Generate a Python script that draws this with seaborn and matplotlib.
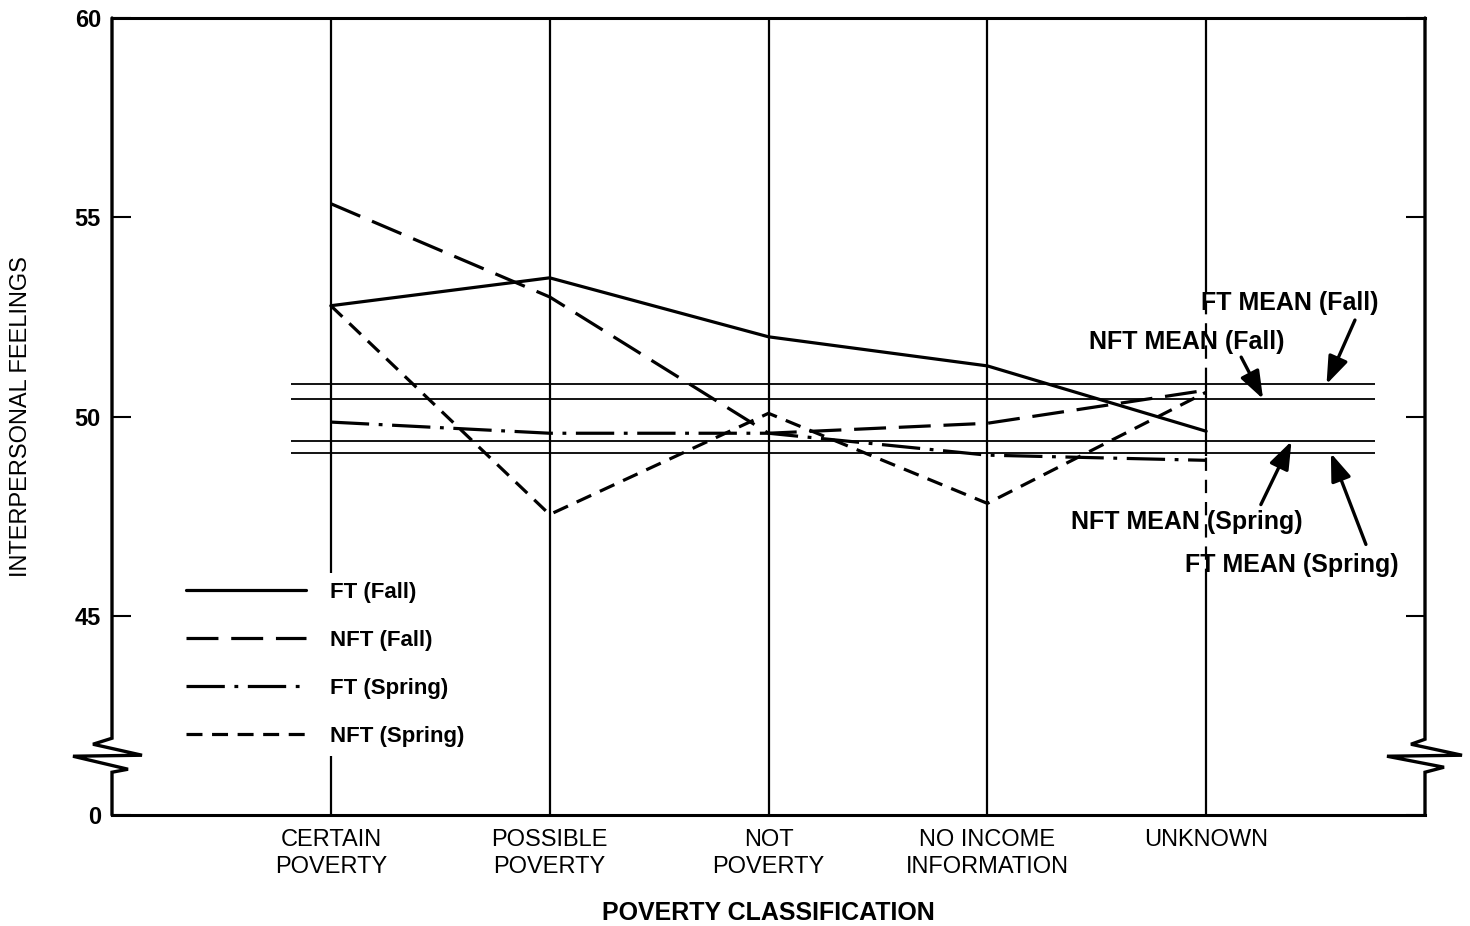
import numpy as np
import pandas as pd
import seaborn as sns
import matplotlib.pyplot as plt

# categories along the x axis
categories = ["CERTAIN\nPOVERTY", "POSSIBLE\nPOVERTY", "NOT\nPOVERTY",
              "NO INCOME\nINFORMATION", "UNKNOWN"]

# interpersonal feelings scores
ft_fall = [52.78, 53.48, 52.0, 51.27, 49.63]
nft_fall = [55.34, 53.0, 49.58, 49.83, 50.66]
ft_spring = [49.86, 49.58, 49.58, 49.03, 48.9]
nft_spring = [52.78, 47.54, 50.08, 47.82, 50.61]

series_names = ["FT (Fall)", "NFT (Fall)", "FT (Spring)", "NFT (Spring)"]

# group means (horizontal reference lines)
mean_labels = ["FT MEAN (Fall)", "NFT MEAN (Fall)", "NFT MEAN (Spring)", "FT MEAN (Spring)"]
mean_values = [50.81, 50.44, 49.38, 49.08]

yticks = [40, 45, 50, 55, 60]
ytick_labels = ["0", "45", "50", "55", "60"]

df = pd.DataFrame({
    "cat": categories * 4,
    "score": ft_fall + nft_fall + ft_spring + nft_spring,
    "series": np.repeat(series_names, len(categories)),
})

sns.set_theme(style="white")
plt.rcParams["font.family"] = ["Liberation Sans", "DejaVu Sans"]
plt.rcParams.update({"text.color": "black", "axes.labelcolor": "black",
                     "xtick.color": "black", "ytick.color": "black"})

fig = plt.figure(figsize=(14.7, 9.26), dpi=100)
ax = fig.add_axes([112 / 1470, 1 - 815 / 926, 1313 / 1470, 797 / 926])

dashes = {"FT (Fall)": "", "NFT (Fall)": (10, 4),
          "FT (Spring)": (12, 3, 1.2, 3), "NFT (Spring)": (5, 3)}
sns.lineplot(data=df, x="cat", y="score", style="series", style_order=series_names,
             dashes=dashes, color="black", lw=2.3, legend=False, ax=ax, sort=False)

ax.set_xlim(-1, 5)
ax.set_ylim(40, 60)

# vertical guide lines at each category
for i in range(len(categories) - 1):
    ax.axvline(i, color="black", lw=1.6, zorder=1)
last = len(categories) - 1
ax.vlines([last] * 3, [40, 49.0, 53.3], [45.85, 50.9, 60], color="black", lw=1.6, zorder=1)
ax.vlines([last] * 2, [45.85, 50.9], [49.0, 53.3], color="black", lw=1.6,
          linestyles=[(0, (6, 4))], zorder=1)

# mean lines
ax.hlines(mean_values, -0.18, 4.77, color="black", lw=1.3, zorder=1)

# annotations for the means
ann = [
    (mean_labels[0], (4.38, 52.85), (4.68, 52.42), (4.55, mean_values[0])),
    (mean_labels[1], (3.91, 51.87), (4.16, 51.49), (4.26, mean_values[1])),
    (mean_labels[2], (3.91, 47.36), (4.25, 47.79), (4.39, mean_values[2])),
    (mean_labels[3], (4.39, 46.28), (4.73, 46.79), (4.57, mean_values[3])),
]
for label, tpos, tail, head in ann:
    ax.text(*tpos, label, ha="center", va="center", fontsize=18, fontweight="bold")
    ax.annotate("", xy=head, xytext=tail,
                arrowprops=dict(arrowstyle="-|>,head_length=0.6,head_width=0.22",
                                color="black", lw=2.4,
                                mutation_scale=28, shrinkA=0, shrinkB=0))

# axes, ticks, labels
ax.set_yticks(yticks)
ax.set_yticklabels(ytick_labels)
ax.tick_params(axis="y", direction="in", length=14, width=1.5, left=True, right=True, pad=8,
               labelsize=17)
for t in ax.get_yticklabels():
    t.set_fontweight("bold")
ax.tick_params(axis="x", length=0, pad=10, labelsize=17)
for t in ax.get_xticklabels():
    t.set_linespacing(1.3)

ax.set_xlabel("POVERTY CLASSIFICATION", fontsize=18, fontweight="bold")
ax.xaxis.label.set_va("center")
ax.xaxis.set_label_coords(0.5, -0.123)
ax.set_ylabel("INTERPERSONAL FEELINGS", fontsize=17)
ax.yaxis.set_label_coords(-0.061, 0.5)

for s in ["top", "bottom"]:
    ax.spines[s].set_linewidth(2.2)
    ax.spines[s].set_color("black")
ax.spines["left"].set_visible(False)
ax.spines["right"].set_visible(False)

# side spines with a zigzag axis break
def to_axes(xfrac, ydata, pts):
    base = ax.transData.transform((0, ydata))
    x0 = ax.transAxes.transform((xfrac, 0))[0]
    disp = np.array([[x0 + dx, base[1] - dy] for dx, dy in pts])
    return ax.transAxes.inverted().transform(disp)

y_break = 41.5
left_zig = [(0, -17), (-19, -11), (30, 0), (-39, 1), (16, 14), (0, 17)]
right_zig = [(0, -16), (-14, -11), (37, 0), (-38, 1), (19, 12), (0, 17)]
for xfrac, pts in [(0, left_zig), (1, right_zig)]:
    zz = to_axes(xfrac, y_break, pts)
    xs = [xfrac] + list(zz[:, 0]) + [xfrac]
    ys = [1] + list(zz[:, 1]) + [0]
    ax.plot(xs, ys, color="black", lw=2.4, transform=ax.transAxes, clip_on=False,
            solid_joinstyle="miter")

# legend (white box hides the guide line behind it, as in the original)
handles = ax.lines[:4]
leg = ax.legend(handles, series_names, loc="upper left", bbox_to_anchor=(0.041, 0.318),
                frameon=True, facecolor="white", edgecolor="none", framealpha=1,
                fancybox=False, handlelength=5.4, handletextpad=1.1, labelspacing=1.22,
                prop={"size": 16, "weight": "bold"})
leg.set_zorder(5)

fig.savefig("out.png", dpi=100, facecolor="white")
